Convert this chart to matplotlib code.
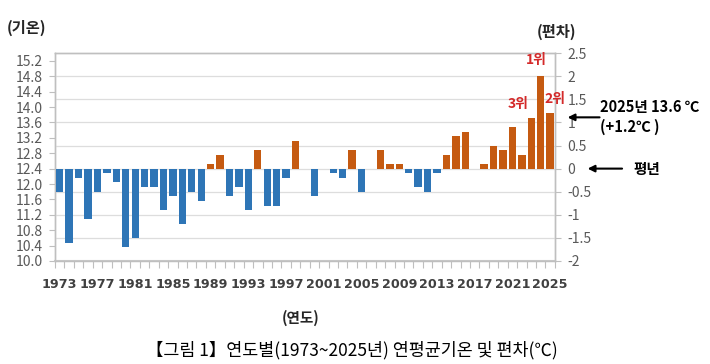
import numpy as np
import matplotlib
matplotlib.use("Agg")
import matplotlib.pyplot as plt

plt.rcParams['font.family'] = ['Noto Sans CJK KR', 'DejaVu Sans']

# ===================== DATOS =====================
years = list(range(1973, 2026))
anomaly = [
    -0.5, -1.6, -0.2, -1.1, -0.5, -0.1, -0.3, -1.7, -1.5, -0.4,
    -0.4, -0.9, -0.6, -1.2, -0.5, -0.7, 0.1, 0.3, -0.6, -0.4,
    -0.9, 0.4, -0.8, -0.8, -0.2, 0.6, 0.0, -0.6, 0.0, -0.1,
    -0.2, 0.4, -0.5, 0.0, 0.4, 0.1, 0.1, -0.1, -0.4, -0.5,
    -0.1, 0.3, 0.7, 0.8, 0.0, 0.1, 0.5, 0.4, 0.9, 0.3,
    1.1, 2.0, 1.2,
]
temp_ticks = [10.0, 10.4, 10.8, 11.2, 11.6, 12.0, 12.4, 12.8, 13.2, 13.6, 14.0, 14.4, 14.8, 15.2]
anom_ticks = [-2, -1.5, -1, -0.5, 0, 0.5, 1, 1.5, 2, 2.5]
anom_labels = ["-2", "-1.5", "-1", "-0.5", "0", "0.5", "1", "1.5", "2", "2.5"]
label_years = list(range(1973, 2026, 4))
ranks = {2024: "1위", 2025: "2위", 2023: "3위"}

# ===================== FIGURA =====================
fig = plt.figure(figsize=(7.1, 3.64), dpi=100)
ax = fig.add_axes([0.0775, 0.283, 0.704, 0.571])
ax2 = ax.twinx()

blue = "#2E75B6"
orange = "#C55A11"
gray_txt = "#595959"
spine_c = "#BFBFBF"

x = np.array(years)
colors = [orange if v > 0 else blue for v in anomaly]
ax2.bar(x, anomaly, width=0.78, color=colors, zorder=3)
ax2.set_ylim(-2, 2.5)
ax2.set_xlim(1972.5, 2025.5)
ax2.set_yticks(anom_ticks)
ax2.set_yticklabels(anom_labels)
for g in anom_ticks[1:-1]:
    ax2.axhline(g, color="#DDDDDD", lw=0.9, zorder=1)

ax.set_ylim(10.0, 15.4)
ax.set_yticks(temp_ticks)
ax.set_yticklabels([f"{t:.1f}" for t in temp_ticks])

# eje x: etiquetas cada 4 años, marcas en los límites de cada categoría
ax.set_xticks(label_years)
ax.set_xticklabels([str(y) for y in label_years], fontweight="bold", color="#404040",
                   fontsize=9.2, family=["DejaVu Sans"])
ax.set_xticks(np.arange(1972.5, 2026, 1), minor=True)
ax.tick_params(axis="x", which="major", length=0, pad=12)
ax.tick_params(axis="x", which="minor", length=5, color=spine_c, width=0.8)

ax.tick_params(axis="y", length=4, color=spine_c, labelsize=10, labelcolor=gray_txt, pad=5)
ax2.tick_params(axis="y", length=4, color=spine_c, labelsize=10, labelcolor=gray_txt, pad=5)
ax2.tick_params(axis="x", length=0)

for a in (ax, ax2):
    for s in a.spines.values():
        s.set_color(spine_c)
        s.set_linewidth(1.0)
ax.spines["bottom"].set_linewidth(1.5)
ax.spines["bottom"].set_color("#C8C8C8")

# ranking
for yr, lab in ranks.items():
    v = anomaly[years.index(yr)]
    dx = {2024: -0.5, 2025: 0.5, 2023: -1.4}[yr]
    dy = {2024: 0.2, 2025: 0.15, 2023: 0.15}[yr]
    ax2.text(yr + dx, v + dy, lab, color="#D42A2A", fontweight="bold", fontsize=10,
             ha="center", va="bottom", zorder=5)

# anotaciones a la derecha
ax2.annotate("", xy=(1.02, 1.11), xytext=(1.095, 1.11),
             xycoords=("axes fraction", "data"), textcoords=("axes fraction", "data"),
             arrowprops=dict(arrowstyle="-|>", color="black", lw=1.5, mutation_scale=10),
             annotation_clip=False)
ax2.annotate("", xy=(1.06, 0), xytext=(1.14, 0),
             xycoords=("axes fraction", "data"), textcoords=("axes fraction", "data"),
             arrowprops=dict(arrowstyle="-|>", color="black", lw=1.5, mutation_scale=10),
             annotation_clip=False)
ax2.text(1.09, 1.33, "2025년 13.6 ℃", transform=ax2.get_yaxis_transform(),
         fontsize=10.5, fontweight="bold", va="center", ha="left")
ax2.text(1.09, 0.91, "(+1.2℃ )", transform=ax2.get_yaxis_transform(),
         fontsize=10.5, fontweight="bold", va="center", ha="left")
ax2.text(1.158, 0, "평년", transform=ax2.get_yaxis_transform(),
         fontsize=10.5, fontweight="bold", va="center", ha="left")

# títulos de ejes
fig.text(7 / 710, 1 - 28 / 364, "(기온)", fontsize=11, fontweight="bold", color="#262626",
         ha="left", va="center")
fig.text(557 / 710, 1 - 32 / 364, "(편차)", fontsize=11, fontweight="bold", color="#262626",
         ha="center", va="center")
fig.text(301 / 710, 1 - 318 / 364, "(연도)", fontsize=10.5, fontweight="bold", color="#262626",
         ha="center", va="center")
fig.text(352 / 710, 1 - 350 / 364, "【그림 1】연도별(1973~2025년) 연평균기온 및 편차(℃)",
         fontsize=12.5, color="black", ha="center", va="center")

fig.savefig("out.png", dpi=100)
